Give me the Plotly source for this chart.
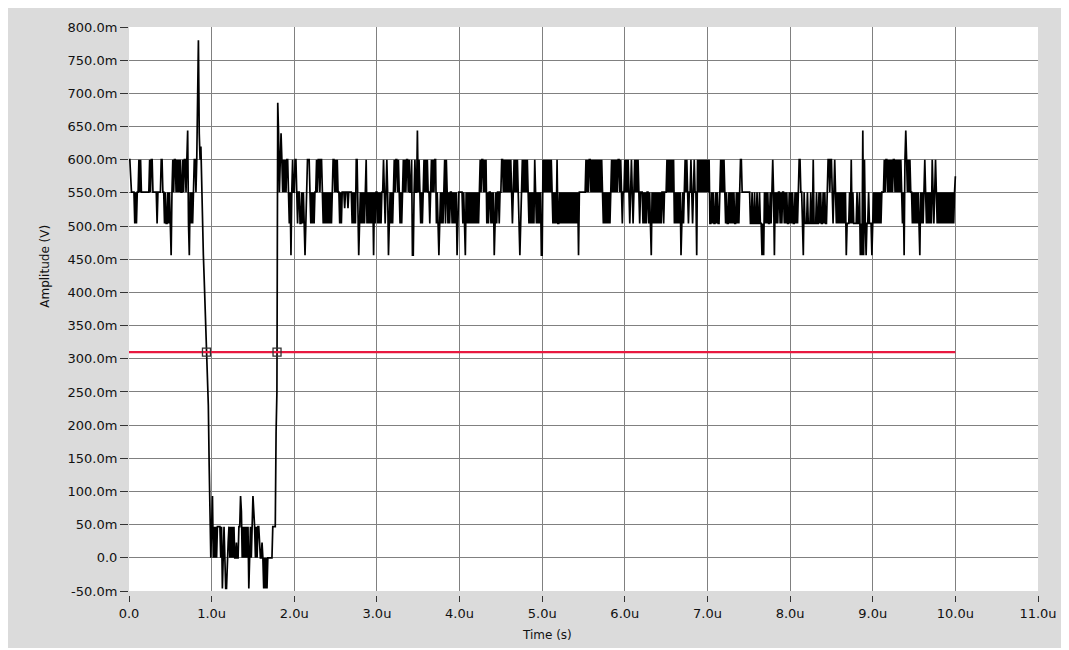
import plotly.graph_objects as go

# ---------------- data ----------------
DT = 10e-9            # sample interval (s)
THRESHOLD = 0.31      # red reference level (V)

# quantised levels (V) used by the code strings below
LEVELS_HIGH = {'A': 0.456, 'B': 0.504, 'b': 0.527, 'C': 0.551, 'c': 0.575, 'D': 0.600, 'E': 0.644}
LEVELS_LOW = {'w': -0.046, 'x': 0.0, 'h': 0.023, 'y': 0.047, 'k': 0.070, 'z': 0.093}

# 0.00u - 0.79u
pre_codes = ("DDcCCCCBCB" "CCDCDCCCCC" "CCCCCDCDDC" "CCCCBCCCCD"
             "DCCBCBBCBC" "BACDCDDCDC" "DCDCCDCDDC" "DEBACBCBCD")
# 0.80u - 0.97u falling edge
fall_values = [0.60, 0.551, 0.60, 0.715, 0.78, 0.64, 0.60, 0.62, 0.551, 0.504,
               0.456, 0.42, 0.38, 0.34, 0.30, 0.285, 0.23, 0.14]
# 0.98u - 1.77u low state
low_codes = ("yxyzxyxyxy" "yyyxy" "w" "xyx" "ww" "xh" "yxyxyxy" "xxhxxy" "y" "z" "k"
             "xyxyxyxy" "w" "xyxy" "z" "k" "yxyxyy" "hx" "xhx" "wx" "w" "x" "wx" "xxxxx" "yyyy")
# 1.78u - 1.87u rising edge
rise_values = [0.19, 0.25, 0.686, 0.64, 0.551, 0.62, 0.64, 0.60, 0.551, 0.60]
# 1.88u - 1.99u
high_head = "CDCDDCBCACDC"
high_2u = ("CDDCBCCBBC" "BCBABCDDDC" "BCBCBCCDCD" "DCDDCBCBCB" "CBCBCBCDDC"
           "DCDCCBCBCC" "CbCCCbCCCC" "BCBCBDDBAB" "CBCBCBCDBC" "BCBCBCACBC")
high_3u = ("CBCBCBCCDC" "BCDCABCBCB" "CDCDDCDCBC" "BCDCDCDDCD" "CCDAACDCCE"
           "CDCBCBCDCD" "CDCCBCDCDC" "DDBCBABCBC" "BCDBDCBCBC" "CBCBCBCABC")
high_4u = ("CCCCBCBACB" "CBCBCBCBCB" "CBCBCDCDDC" "DCDBCBCCBC" "BCABCBCCBC"
           "CDDCDCDCDC" "DCDCBCDCDC" "DCBABCDCDC" "DCDCBCBCBC" "BDCBCBCBCA")
high_5u = ("ADCDCDCDCD" "CDCBCBCBDB" "BCBCBCBCBC" "BCBCBCBCBC" "BCBCACCCCC"
           "CCCDCDCDDC" "DCDCDCDCDC" "DCDCBCBCBC" "BCBCDCDCDC" "DCDDCDCBCC")
high_6u = ("DCDCDCBCDC" "BCDCDCDCBC" "CCBCBCBCCB" "CBACBCBCBC" "BCBCBCCBCC"
           "CDCDCDCDCD" "BCBCBCBCAB" "CBCDCDCBCC" "DCBCDCCADC" "DCDCDCDCDC")
high_7u = ("DCDBBCBCBB" "CBCBBCDCDC" "DCBCBBCBCB" "CBCBBCBCBC" "DDCCCCCCCC"
           "CCBBCBBCBB" "CBBCBBABAC" "BCBCBBCBCD" "CACBCBCCBC" "BCCBCBCBBC")
high_8u = ("BCBCBBCBCB" "CDDCCBACBB" "BCBBBCBBDB" "BBCBBCBCBB" "CBCBBCDDCD"
           "DCBCDCBCBC" "BCBCBCBCAB" "BBCBDBCBBB" "BCBBCABAEA" "DBABBCBBBA")
high_9u = ("BCBCBCBCBC" "BCCCDCDDCD" "CDCDCDDCDC" "DCDCDCBCAD" "EDCDCDCCBC"
           "BCBCBCBACB" "CBCDCBCBCB" "CBDCBCDCBC" "BCBCBCBCBC" "BCBCBCBCBC")
high_tail = "c"

x_tick_vals = [i * 1e-6 for i in range(12)]
x_tick_text = ["0.0"] + [f"{i}.0u" for i in range(1, 12)]
y_tick_mv = list(range(-50, 801, 50))
y_tick_vals = [v / 1000 for v in y_tick_mv]
y_tick_text = ["0.0" if v == 0 else f"{v:.1f}m" for v in y_tick_mv]

# ---------------- build series ----------------
high_codes = high_head + high_2u + high_3u + high_4u + high_5u + high_6u + high_7u + high_8u + high_9u + high_tail
signal = ([LEVELS_HIGH[c] for c in pre_codes] + fall_values +
          [LEVELS_LOW[c] for c in low_codes] + rise_values +
          [LEVELS_HIGH[c] for c in high_codes])
t = [i * DT for i in range(len(signal))]

# threshold crossings (linear interpolation between samples)
cross_x = []
for i in range(len(signal) - 1):
    a, b = signal[i] - THRESHOLD, signal[i + 1] - THRESHOLD
    if a * b < 0:
        cross_x.append(t[i] + (t[i + 1] - t[i]) * a / (a - b))

FONT = "DejaVu Sans"
GRID = "#808080"

fig = go.Figure()
fig.add_trace(go.Scatter(x=t, y=signal, mode="lines",
                         line=dict(color="black", width=1.7), hoverinfo="skip"))
fig.add_trace(go.Scatter(x=[t[0], t[-1]], y=[THRESHOLD, THRESHOLD], mode="lines",
                         line=dict(color="#e8183f", width=2.2), hoverinfo="skip"))
fig.add_trace(go.Scatter(x=cross_x, y=[THRESHOLD] * len(cross_x), mode="markers",
                         marker=dict(symbol="square-open", size=8, color="#333333",
                                     line=dict(width=1.3, color="#333333")),
                         hoverinfo="skip"))

# page body has an 8px margin, so work in screen px and shift
OFF = 8
W, H = 1069 - OFF, 648 - OFF
L, R, T, B = 129 - OFF, 31, 24 - OFF, H - (595 - OFF)
pw, ph = W - L - R, H - T - B

def px_x(px):
    return (px - OFF - L) / pw

def px_y(py):
    return (H - B - (py - OFF)) / ph

fig.update_layout(
    width=W, height=H,
    margin=dict(l=L, r=R, t=T, b=B, pad=0),
    paper_bgcolor="#dbdbdb",
    plot_bgcolor="white",
    showlegend=False,
    font=dict(family=FONT, size=13, color="#111111"),
    xaxis=dict(range=[0, 11e-6], tickvals=x_tick_vals, ticktext=x_tick_text,
               showgrid=False,
               minor=dict(tickvals=x_tick_vals[:-1], showgrid=True, gridcolor=GRID,
                          gridwidth=1, ticks=""),
               ticks="outside", ticklen=6, tickwidth=1, tickcolor="#333333",
               zeroline=False, showline=False, anchor="free", position=0,
               tickfont=dict(family=FONT, size=13, color="#111111")),
    yaxis=dict(range=[-0.05, 0.8], domain=[4 / ph, 1], tickvals=y_tick_vals, ticktext=y_tick_text,
               showgrid=False,
               minor=dict(tickvals=y_tick_vals[1:], showgrid=True, gridcolor=GRID,
                          gridwidth=1, ticks=""),
               ticks="outside", ticklen=8, tickwidth=1, tickcolor="#333333",
               zeroline=False, showline=False,
               tickfont=dict(family=FONT, size=13, color="#111111")),
    annotations=[
        dict(text="Amplitude (V)", xref="paper", yref="paper", x=px_x(45), y=px_y(265),
             textangle=-90, showarrow=False, xanchor="center", yanchor="middle",
             font=dict(family=FONT, size=12, color="#111111")),
        dict(text="Time (s)", xref="paper", yref="paper", x=px_x(547), y=px_y(635),
             showarrow=False, xanchor="center", yanchor="middle",
             font=dict(family=FONT, size=12, color="#111111")),
    ],
)

fig.write_html("out.html")
